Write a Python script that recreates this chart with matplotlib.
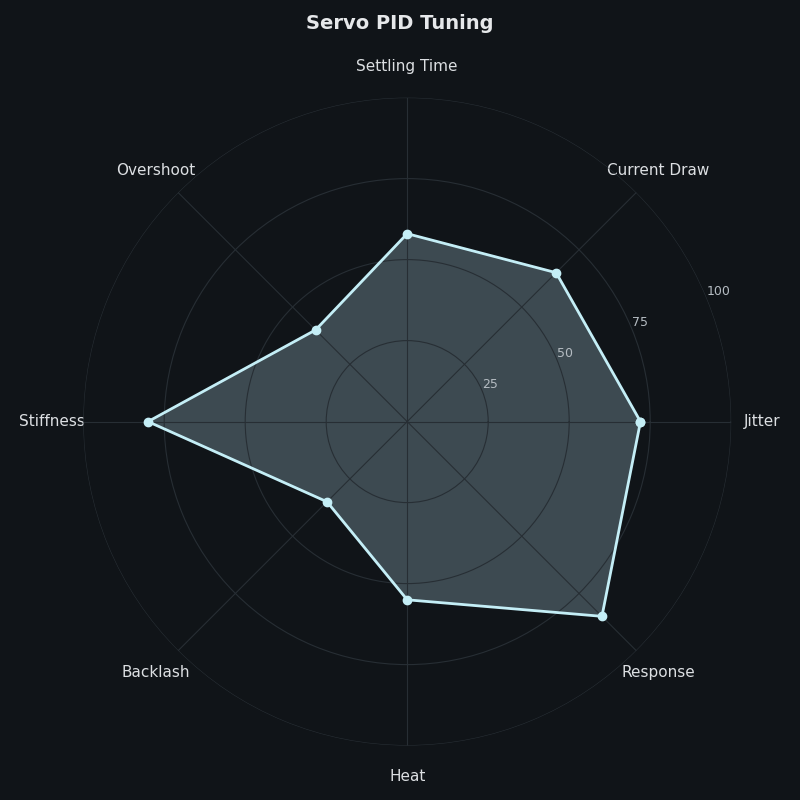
import numpy as np
import matplotlib
matplotlib.use('Agg')
from matplotlib import pyplot

# data
categories = ['Jitter', 'Current Draw', 'Settling Time', 'Overshoot',
              'Stiffness', 'Backlash', 'Heat', 'Response']
values = [72, 65, 58, 40, 80, 35, 55, 85]
r_ticks = [25, 50, 75, 100]

bg = '#101418'
line_color = '#c4eef6'
fill_color = '#93b1be'
grid_color = '#272e34'

angles = np.linspace(0, 2 * np.pi, len(categories), endpoint=False)
a_closed = np.append(angles, angles[0])
v_closed = np.append(values, values[0])

fig = pyplot.figure(figsize=(8, 8), dpi=100, facecolor=bg)
ax = fig.add_axes([0.104, 0.068, 0.81, 0.81], projection='polar')
ax.set_facecolor(bg)
ax.set_axisbelow(False)

ax.fill(a_closed, v_closed, color=fill_color, alpha=0.35, zorder=2)
ax.plot(a_closed, v_closed, color=line_color, linewidth=2, marker='o', markersize=6, zorder=3)

ax.set_ylim(0, 100)
ax.set_yticks(r_ticks)
ax.set_yticklabels([str(t) for t in r_ticks], fontsize=9, color='#b5bcc2')
ax.set_rlabel_position(22.5)
ax.set_xticks(angles)
ax.set_xticklabels(categories, fontsize=11, color='#dcdfe2')
ax.tick_params(axis='x', pad=12)
ax.grid(True, color=grid_color, linewidth=0.8)
ax.spines['polar'].set_visible(False)

fig.suptitle('Servo PID Tuning', fontsize=14, fontweight='bold', color='#e6e8ea', y=0.983)

pyplot.savefig('out.png', facecolor=bg)
